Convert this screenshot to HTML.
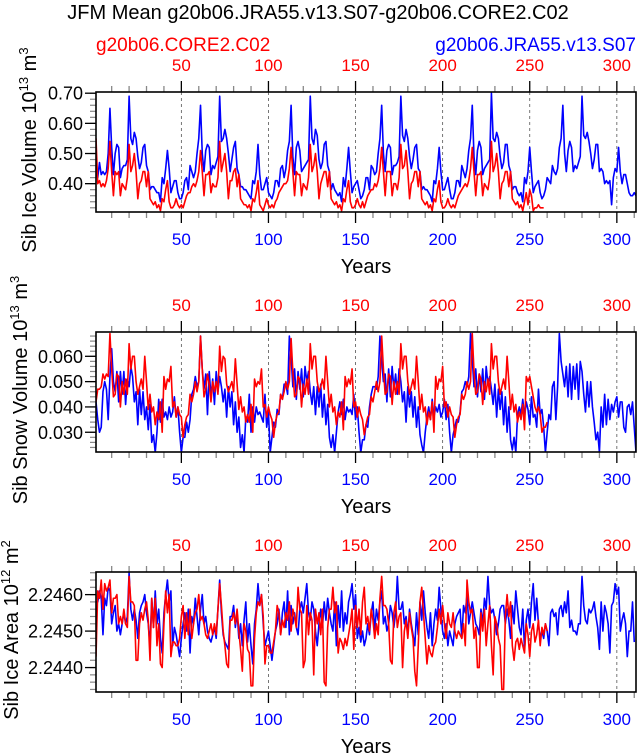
<!DOCTYPE html>
<html><head><meta charset="utf-8"><style>
html,body{margin:0;padding:0;background:#fff;}
svg{display:block;font-family:"Liberation Sans",Arial,sans-serif;}
</style></head><body>
<svg id="chart" width="637" height="753" viewBox="0 0 637 753">
<text x="318" y="19" font-size="20" text-anchor="middle">JFM Mean g20b06.JRA55.v13.S07-g20b06.CORE2.C02</text>
<text x="96" y="51" font-size="19" fill="#ff0000">g20b06.CORE2.C02</text>
<text x="636" y="51" font-size="19" fill="#0000ff" text-anchor="end">g20b06.JRA55.v13.S07</text>
</svg>
<script>
// Panel 1: Sib Ice Volume
const iceVolBlue = [
0.44,0.42,0.47,0.43,0.44,0.43,0.44,0.50,0.65,0.52,0.43,0.50,0.53,0.52,0.42,0.45,0.46,0.46,0.48,0.69,0.55,0.53,0.57,0.55,0.49,0.45,0.47,0.52,0.53,0.46,0.44,0.38,0.39,0.39,0.38,0.37,0.37,0.34,0.42,0.40,0.45,0.51,0.45,0.37,0.39,0.41,0.41,0.37,0.35,0.35,0.37,0.41,
0.42,0.38,0.46,0.44,0.42,0.44,0.50,0.55,0.66,0.50,0.44,0.51,0.53,0.52,0.43,0.46,0.45,0.47,0.49,0.69,0.54,0.55,0.58,0.55,0.50,0.44,0.48,0.52,0.54,0.45,0.43,0.39,0.39,0.38,0.38,0.37,0.36,0.35,0.41,0.40,0.44,0.53,0.43,0.38,0.38,0.40,0.42,0.37,0.36,0.35,0.37,0.41,
0.41,0.39,0.45,0.46,0.42,0.45,0.51,0.54,0.66,0.49,0.43,0.52,0.54,0.51,0.44,0.45,0.46,0.47,0.48,0.69,0.55,0.53,0.58,0.56,0.48,0.45,0.47,0.53,0.54,0.46,0.44,0.38,0.40,0.38,0.37,0.36,0.37,0.34,0.42,0.39,0.45,0.52,0.44,0.37,0.39,0.40,0.41,0.38,0.35,0.36,0.38,0.42,
0.42,0.38,0.46,0.45,0.43,0.44,0.50,0.55,0.66,0.50,0.44,0.51,0.53,0.52,0.43,0.46,0.46,0.47,0.49,0.69,0.56,0.54,0.58,0.55,0.49,0.45,0.48,0.52,0.53,0.45,0.44,0.38,0.39,0.38,0.38,0.37,0.36,0.34,0.41,0.40,0.45,0.52,0.44,0.38,0.38,0.40,0.42,0.38,0.35,0.35,0.37,0.41,
0.41,0.39,0.46,0.44,0.42,0.45,0.51,0.55,0.66,0.49,0.43,0.51,0.54,0.52,0.43,0.45,0.46,0.47,0.48,0.70,0.55,0.54,0.57,0.55,0.49,0.45,0.47,0.53,0.53,0.46,0.44,0.38,0.39,0.39,0.37,0.36,0.37,0.34,0.42,0.40,0.44,0.52,0.44,0.37,0.39,0.40,0.41,0.37,0.35,0.36,0.38,0.42,
0.41,0.40,0.46,0.44,0.43,0.45,0.52,0.55,0.66,0.50,0.44,0.51,0.54,0.52,0.44,0.46,0.45,0.47,0.49,0.69,0.56,0.55,0.57,0.54,0.50,0.45,0.48,0.53,0.53,0.44,0.45,0.44,0.40,0.41,0.40,0.41,0.33,0.42,0.45,0.44,0.52,0.44,0.40,0.43,0.43,0.40,0.37,0.36,0.36,0.37,0.36];
const iceVolRed = [
0.55,0.40,0.41,0.39,0.40,0.39,0.41,0.45,0.54,0.44,0.36,0.44,0.43,0.44,0.36,0.40,0.39,0.38,0.42,0.53,0.44,0.46,0.50,0.44,0.35,0.40,0.41,0.44,0.44,0.39,0.44,0.35,0.34,0.33,0.34,0.32,0.33,0.31,0.35,0.34,0.38,0.41,0.34,0.32,0.32,0.33,0.35,0.33,0.32,0.33,0.32,0.34,
0.36,0.37,0.37,0.39,0.40,0.39,0.41,0.44,0.51,0.44,0.36,0.43,0.43,0.44,0.37,0.40,0.39,0.39,0.42,0.54,0.44,0.47,0.50,0.44,0.35,0.41,0.41,0.44,0.45,0.39,0.43,0.35,0.34,0.33,0.33,0.32,0.33,0.31,0.35,0.34,0.37,0.41,0.33,0.32,0.31,0.33,0.35,0.33,0.32,0.33,0.32,0.34,
0.35,0.37,0.38,0.39,0.40,0.40,0.41,0.45,0.52,0.44,0.36,0.44,0.43,0.43,0.36,0.40,0.39,0.38,0.42,0.53,0.44,0.46,0.50,0.44,0.35,0.40,0.42,0.44,0.44,0.39,0.44,0.35,0.34,0.33,0.34,0.32,0.33,0.31,0.35,0.34,0.38,0.41,0.34,0.32,0.32,0.33,0.35,0.33,0.32,0.34,0.32,0.34,
0.36,0.37,0.38,0.38,0.40,0.39,0.41,0.45,0.52,0.44,0.36,0.44,0.44,0.44,0.36,0.40,0.40,0.38,0.42,0.53,0.45,0.46,0.51,0.44,0.35,0.40,0.41,0.44,0.44,0.39,0.44,0.35,0.34,0.33,0.34,0.32,0.33,0.31,0.35,0.34,0.38,0.41,0.34,0.32,0.32,0.33,0.35,0.33,0.32,0.33,0.32,0.34,
0.36,0.37,0.38,0.39,0.40,0.39,0.41,0.45,0.52,0.44,0.36,0.43,0.43,0.44,0.36,0.40,0.39,0.38,0.42,0.54,0.44,0.46,0.50,0.44,0.35,0.40,0.41,0.44,0.44,0.39,0.44,0.35,0.34,0.33,0.34,0.32,0.33,0.31,0.34,0.37,0.33,0.38,0.36,0.31,0.32,0.32,0.33,0.32,0.32,0.32];
// Panel 2: Sib Snow Volume
const snowBlue = [
0.042,0.035,0.030,0.032,0.046,0.050,0.047,0.035,0.052,0.063,0.050,0.046,0.054,0.042,0.054,0.045,0.054,0.041,0.051,0.048,0.056,0.052,0.042,0.046,0.033,0.047,0.037,0.046,0.035,0.040,0.031,0.041,0.026,0.029,0.022,0.030,0.043,0.034,0.043,0.036,0.038,0.035,0.040,0.036,0.038,0.044,0.036,0.040,0.030,0.022,0.028,0.028,
0.034,0.030,0.035,0.045,0.047,0.052,0.048,0.050,0.068,0.055,0.047,0.053,0.037,0.054,0.044,0.051,0.041,0.054,0.046,0.052,0.048,0.042,0.047,0.036,0.048,0.040,0.046,0.033,0.042,0.030,0.036,0.024,0.029,0.022,0.036,0.034,0.045,0.030,0.040,0.034,0.040,0.037,0.038,0.036,0.034,0.045,0.032,0.038,0.022,0.028,0.034,0.032,
0.039,0.037,0.045,0.043,0.049,0.049,0.045,0.068,0.060,0.048,0.055,0.043,0.054,0.047,0.055,0.044,0.056,0.050,0.054,0.046,0.041,0.048,0.037,0.048,0.040,0.049,0.036,0.045,0.033,0.041,0.028,0.024,0.029,0.022,0.030,0.038,0.042,0.037,0.043,0.035,0.040,0.038,0.039,0.037,0.045,0.035,0.040,0.030,0.022,0.027,0.027,0.033,
0.032,0.040,0.045,0.048,0.048,0.047,0.052,0.068,0.058,0.050,0.053,0.042,0.055,0.044,0.056,0.047,0.053,0.045,0.055,0.050,0.042,0.046,0.034,0.048,0.040,0.046,0.036,0.044,0.032,0.040,0.029,0.025,0.022,0.030,0.036,0.040,0.035,0.043,0.036,0.040,0.038,0.041,0.036,0.038,0.043,0.035,0.041,0.030,0.022,0.029,0.032,0.035,
0.034,0.038,0.046,0.047,0.050,0.048,0.052,0.069,0.059,0.048,0.055,0.044,0.053,0.046,0.055,0.043,0.056,0.049,0.052,0.047,0.041,0.049,0.036,0.047,0.039,0.046,0.033,0.044,0.030,0.040,0.027,0.023,0.028,0.022,0.037,0.040,0.037,0.043,0.036,0.042,0.039,0.033,0.044,0.036,0.037,0.032,0.047,0.037,0.039,0.032,0.022,0.030,
0.037,0.035,0.048,0.050,0.035,0.048,0.069,0.058,0.053,0.048,0.056,0.044,0.057,0.043,0.056,0.047,0.057,0.043,0.058,0.054,0.045,0.038,0.050,0.040,0.050,0.040,0.034,0.027,0.030,0.022,0.040,0.032,0.045,0.033,0.043,0.035,0.041,0.038,0.042,0.044,0.036,0.042,0.042,0.032,0.030,0.040,0.041,0.037,0.042,0.032,0.022];
const snowRed = [
0.042,0.047,0.047,0.048,0.053,0.051,0.053,0.052,0.069,0.055,0.044,0.045,0.053,0.052,0.040,0.050,0.045,0.051,0.045,0.065,0.055,0.060,0.060,0.050,0.045,0.048,0.051,0.047,0.060,0.050,0.039,0.045,0.038,0.040,0.033,0.038,0.035,0.042,0.030,0.052,0.047,0.051,0.050,0.056,0.040,0.042,0.036,0.040,0.037,0.036,0.028,0.033,
0.036,0.037,0.045,0.042,0.045,0.050,0.046,0.050,0.068,0.055,0.044,0.047,0.053,0.049,0.042,0.050,0.046,0.050,0.045,0.064,0.054,0.060,0.059,0.049,0.046,0.048,0.050,0.046,0.059,0.049,0.039,0.044,0.038,0.040,0.034,0.037,0.034,0.041,0.030,0.051,0.048,0.050,0.049,0.055,0.040,0.041,0.036,0.040,0.037,0.035,0.028,0.034,
0.037,0.038,0.045,0.043,0.046,0.050,0.047,0.050,0.067,0.054,0.044,0.045,0.052,0.051,0.040,0.049,0.045,0.051,0.045,0.065,0.055,0.060,0.060,0.050,0.046,0.048,0.051,0.047,0.060,0.050,0.040,0.045,0.038,0.040,0.033,0.038,0.036,0.042,0.031,0.052,0.048,0.051,0.049,0.055,0.040,0.042,0.036,0.040,0.037,0.035,0.029,0.033,
0.036,0.037,0.044,0.042,0.046,0.050,0.046,0.050,0.068,0.055,0.045,0.046,0.053,0.052,0.041,0.050,0.045,0.050,0.045,0.065,0.055,0.060,0.060,0.050,0.045,0.048,0.051,0.047,0.060,0.050,0.039,0.045,0.038,0.040,0.033,0.038,0.035,0.042,0.030,0.052,0.047,0.051,0.050,0.056,0.040,0.042,0.036,0.040,0.037,0.036,0.028,0.033,
0.036,0.037,0.045,0.043,0.045,0.050,0.047,0.050,0.069,0.054,0.045,0.046,0.053,0.051,0.041,0.050,0.046,0.051,0.045,0.065,0.055,0.060,0.060,0.050,0.045,0.048,0.051,0.047,0.060,0.050,0.039,0.045,0.038,0.041,0.034,0.038,0.035,0.041,0.031,0.052,0.050,0.052,0.048,0.044,0.040,0.038,0.040,0.037,0.030,0.032,0.032,0.034];
// Panel 3: Sib Ice Area
const areaBlue = [
2.2458,2.2458,2.2461,2.2459,2.2449,2.2459,2.2457,2.2462,2.2461,2.2452,2.2455,2.2457,2.2450,2.2452,2.2449,2.2452,2.2455,2.2452,2.2454,2.2466,2.2456,2.2453,2.2456,2.2453,2.2448,2.2455,2.2457,2.2458,2.2460,2.2455,2.2452,2.2446,2.2459,2.2451,2.2461,2.2452,2.2456,2.2448,2.2444,2.2455,2.2460,2.2464,2.2458,2.2461,2.2446,2.2451,2.2449,2.2446,2.2443,2.2448,2.2452,2.2455,
2.2450,2.2456,2.2444,2.2454,2.2452,2.2459,2.2454,2.2449,2.2456,2.2460,2.2452,2.2454,2.2450,2.2448,2.2447,2.2449,2.2451,2.2448,2.2456,2.2464,2.2455,2.2449,2.2447,2.2446,2.2445,2.2454,2.2454,2.2457,2.2451,2.2455,2.2448,2.2452,2.2446,2.2453,2.2458,2.2447,2.2452,2.2446,2.2441,2.2452,2.2456,2.2463,2.2457,2.2460,2.2452,2.2446,2.2448,2.2450,2.2446,2.2442,2.2446,2.2450,
2.2452,2.2456,2.2449,2.2455,2.2458,2.2451,2.2461,2.2449,2.2457,2.2452,2.2455,2.2451,2.2449,2.2456,2.2458,2.2455,2.2459,2.2463,2.2455,2.2453,2.2458,2.2456,2.2450,2.2446,2.2452,2.2456,2.2451,2.2458,2.2453,2.2459,2.2455,2.2452,2.2450,2.2458,2.2446,2.2457,2.2451,2.2461,2.2450,2.2455,2.2452,2.2458,2.2460,2.2463,2.2456,2.2460,2.2448,2.2451,2.2447,2.2450,2.2446,2.2448,
2.2452,2.2449,2.2455,2.2458,2.2450,2.2456,2.2453,2.2458,2.2461,2.2452,2.2454,2.2450,2.2452,2.2457,2.2455,2.2451,2.2455,2.2465,2.2456,2.2456,2.2458,2.2452,2.2454,2.2449,2.2456,2.2452,2.2449,2.2446,2.2455,2.2449,2.2458,2.2453,2.2461,2.2455,2.2451,2.2448,2.2455,2.2446,2.2452,2.2456,2.2453,2.2462,2.2456,2.2450,2.2448,2.2452,2.2446,2.2450,2.2448,2.2446,2.2452,2.2454,
2.2455,2.2456,2.2448,2.2457,2.2455,2.2460,2.2452,2.2455,2.2458,2.2455,2.2452,2.2451,2.2449,2.2456,2.2452,2.2459,2.2456,2.2465,2.2457,2.2455,2.2456,2.2453,2.2449,2.2452,2.2456,2.2457,2.2457,2.2452,2.2456,2.2453,2.2448,2.2457,2.2452,2.2461,2.2456,2.2451,2.2449,2.2456,2.2445,2.2453,2.2456,2.2451,2.2458,2.2463,2.2453,2.2459,2.2452,2.2448,2.2450,2.2448,2.2452,2.2450,
2.2446,2.2455,2.2456,2.2454,2.2455,2.2449,2.2456,2.2457,2.2454,2.2458,2.2455,2.2461,2.2451,2.2453,2.2450,2.2450,2.2449,2.2452,2.2452,2.2465,2.2457,2.2453,2.2452,2.2456,2.2455,2.2456,2.2458,2.2454,2.2451,2.2445,2.2458,2.2450,2.2457,2.2455,2.2452,2.2444,2.2457,2.2458,2.2463,2.2460,2.2462,2.2450,2.2453,2.2455,2.2452,2.2443,2.2450,2.2450,2.2458,2.2447];
const areaRed = [
2.2443,2.2461,2.2459,2.2464,2.2456,2.2463,2.2461,2.2462,2.2464,2.2455,2.2459,2.2459,2.2460,2.2452,2.2454,2.2452,2.2456,2.2452,2.2451,2.2465,2.2458,2.2458,2.2457,2.2442,2.2442,2.2452,2.2455,2.2453,2.2456,2.2458,2.2453,2.2442,2.2459,2.2451,2.2459,2.2446,2.2452,2.2441,2.2440,2.2452,2.2461,2.2455,2.2460,2.2443,2.2447,2.2447,2.2446,2.2446,2.2448,2.2454,2.2457,2.2448,
2.2455,2.2449,2.2456,2.2448,2.2452,2.2455,2.2456,2.2460,2.2453,2.2454,2.2452,2.2449,2.2448,2.2450,2.2452,2.2449,2.2452,2.2449,2.2456,2.2463,2.2457,2.2450,2.2446,2.2441,2.2440,2.2453,2.2453,2.2455,2.2452,2.2456,2.2450,2.2445,2.2439,2.2452,2.2450,2.2445,2.2444,2.2435,2.2435,2.2448,2.2455,2.2458,2.2457,2.2460,2.2454,2.2441,2.2446,2.2446,2.2444,2.2444,2.2447,2.2450,
2.2457,2.2455,2.2449,2.2453,2.2451,2.2455,2.2453,2.2458,2.2450,2.2456,2.2454,2.2451,2.2462,2.2456,2.2455,2.2440,2.2442,2.2457,2.2449,2.2455,2.2453,2.2438,2.2456,2.2452,2.2455,2.2449,2.2456,2.2436,2.2435,2.2451,2.2456,2.2456,2.2462,2.2455,2.2458,2.2444,2.2448,2.2447,2.2445,2.2448,2.2446,2.2449,2.2452,2.2456,2.2445,2.2457,2.2451,2.2456,2.2449,2.2458,2.2462,2.2452,
2.2454,2.2450,2.2456,2.2453,2.2448,2.2452,2.2449,2.2459,2.2465,2.2457,2.2457,2.2456,2.2452,2.2442,2.2441,2.2455,2.2458,2.2451,2.2454,2.2455,2.2440,2.2450,2.2453,2.2448,2.2455,2.2451,2.2448,2.2439,2.2435,2.2446,2.2458,2.2462,2.2455,2.2448,2.2441,2.2446,2.2444,2.2443,2.2446,2.2447,2.2451,2.2456,2.2452,2.2457,2.2452,2.2448,2.2455,2.2452,2.2451,2.2455,2.2450,2.2448,
2.2450,2.2449,2.2448,2.2452,2.2446,2.2464,2.2458,2.2455,2.2456,2.2448,2.2451,2.2440,2.2440,2.2455,2.2450,2.2456,2.2446,2.2452,2.2457,2.2446,2.2438,2.2454,2.2452,2.2448,2.2446,2.2434,2.2434,2.2454,2.2460,2.2454,2.2458,2.2446,2.2442,2.2447,2.2448,2.2445,2.2448,2.2446,2.2444,2.2452,2.2449,2.2443,2.2450,2.2452,2.2447,2.2449,2.2453,2.2446,2.2451,2.2449,2.2452,2.2450];

const xTicks = [50,100,150,200,250,300];
const p1Ticks = [0.40,0.50,0.60,0.70];
const p1Labels = ["0.40","0.50","0.60","0.70"];
const p2Ticks = [0.030,0.040,0.050,0.060];
const p2Labels = ["0.030","0.040","0.050","0.060"];
const p3Ticks = [2.2440,2.2450,2.2460];
const p3Labels = ["2.2440","2.2450","2.2460"];

const NS = "http://www.w3.org/2000/svg";
const svg = document.getElementById('chart');
const X0 = 96, X1 = 636, XMIN = 1, XMAX = 311;
function xs(v){ return X0 + (v - XMIN) * (X1 - X0) / (XMAX - XMIN); }
function mk(tag, attrs, parent){ const e = document.createElementNS(NS, tag); for (const k in attrs) e.setAttribute(k, attrs[k]); (parent||svg).appendChild(e); return e; }

function panel(cfg){
  const {top, bot, ymin, ymax, ticks, labels, minorStep, blue, red, title, sup, unit, unitSup, key, titleX} = cfg;
  const ys = v => bot - (v - ymin) * (bot - top) / (ymax - ymin);
  const g = mk('g', {});
  
  
  xTicks.forEach(t => {
    const l = mk('line', {x1: xs(t), x2: xs(t), y1: top, y2: bot, stroke: '#555', 'stroke-width': 0.8, 'stroke-dasharray': '3,3'}, g);
    
    
  });
  for (let t = 10; t <= 310; t += 10) {
    const len = (t % 50 === 0) ? 11 : 6;
    const c = (t % 50 === 0) ? '#000' : '#888';
    mk('line', {x1: xs(t), x2: xs(t), y1: top, y2: top - len, stroke: c, 'stroke-width': 1.3}, g);
    mk('line', {x1: xs(t), x2: xs(t), y1: bot, y2: bot + len, stroke: c, 'stroke-width': 1.3}, g);
  }
  const n0 = Math.ceil((ymin) / minorStep - 1e-6), n1 = Math.floor(ymax / minorStep + 1e-6);
  for (let n = n0; n <= n1; n++) {
    const v = n * minorStep;
    mk('line', {x1: X0, x2: X0 - 6, y1: ys(v), y2: ys(v), stroke: '#888', 'stroke-width': 1.2}, g);
  }
  ticks.forEach((t, i) => {
    mk('line', {x1: X0, x2: X0 - 11, y1: ys(t), y2: ys(t), stroke: '#000', 'stroke-width': 1.3}, g);
    const tl = mk('text', {x: X0 - 13, y: ys(t) + 6.5, 'font-size': 18, 'text-anchor': 'end'}, g);
    tl.textContent = labels[i];
    
    
  });
  xTicks.forEach(t => {
    const a = mk('text', {x: xs(t), y: top - 21, 'font-size': 17, 'text-anchor': 'middle', fill: '#ff0000'}, g);
    a.textContent = t;
    
    
    const b = mk('text', {x: xs(t), y: bot + 33, 'font-size': 17, 'text-anchor': 'middle', fill: '#0000ff'}, g);
    b.textContent = t;
    
    
  });
  const clip = mk('clipPath', {id: 'clip-' + key}, g);
  mk('rect', {x: X0, y: top, width: X1 - X0, height: bot - top}, clip);
  const mkLine = (arr, color, name) => {
    const d = arr.map((v, i) => (i ? 'L' : 'M') + xs(i + 1).toFixed(2) + ',' + ys(v).toFixed(2)).join('');
    const p = mk('path', {d: d, fill: 'none', stroke: color, 'stroke-width': 1.6, 'stroke-linejoin': 'round', 'clip-path': 'url(#clip-' + key + ')'}, g);
    
    
  };
  mkLine(blue, '#0000ff', key + '-jra55-line');
  mkLine(red, '#ff0000', key + '-core2-line');
  const box = mk('rect', {x: X0, y: top, width: X1 - X0, height: bot - top, fill: 'none', stroke: '#000', 'stroke-width': 1.6}, g);
  
  
  const yt = mk('text', {x: 0, y: 0, 'font-size': 20, 'text-anchor': 'middle', transform: 'translate(' + (titleX + 7) + ',' + ((top + bot) / 2 - 2) + ') rotate(-90)'}, g);
  yt.innerHTML = title + ' 10<tspan dy="-8" font-size="13">' + sup + '</tspan><tspan dy="8"> ' + unit + '</tspan><tspan dy="-8" font-size="13">' + unitSup + '</tspan>';
  
  
  const xt = mk('text', {x: 366, y: bot + 61, 'font-size': 20, 'text-anchor': 'middle'}, g);
  xt.textContent = 'Years';
  
  
}

panel({key: 'ice-volume', titleX: 29, top: 92, bot: 212, ymin: 0.306, ymax: 0.704, ticks: p1Ticks, labels: p1Labels, minorStep: 0.02, blue: iceVolBlue, red: iceVolRed, title: 'Sib Ice Volume', sup: '13', unit: 'm', unitSup: '3'});
panel({key: 'snow-volume', titleX: 20, top: 332, bot: 452, ymin: 0.0222, ymax: 0.0696, ticks: p2Ticks, labels: p2Labels, minorStep: 0.002, blue: snowBlue, red: snowRed, title: 'Sib Snow Volume', sup: '13', unit: 'm', unitSup: '3'});
panel({key: 'ice-area', titleX: 11, top: 572, bot: 692, ymin: 2.24333, ymax: 2.24662, ticks: p3Ticks, labels: p3Labels, minorStep: 0.0002, blue: areaBlue, red: areaRed, title: 'Sib Ice Area', sup: '12', unit: 'm', unitSup: '2'});
</script>
</body></html>
